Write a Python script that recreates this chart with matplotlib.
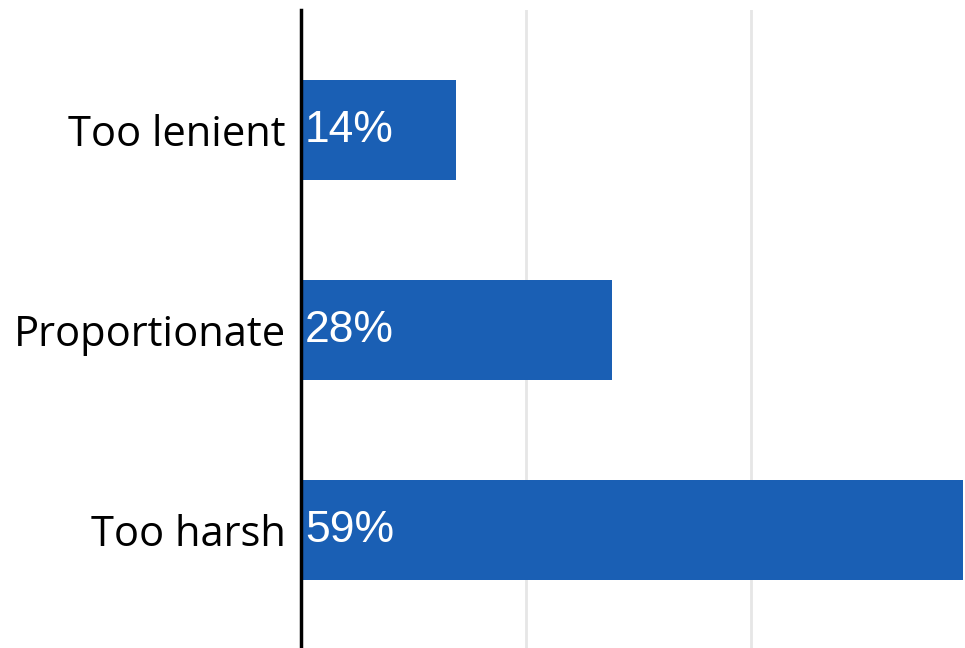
import matplotlib
matplotlib.use('Agg')
from matplotlib import pyplot as plt

categories = ['Too lenient', 'Proportionate', 'Too harsh']
values = [13.8, 27.6, 58.8]
labels = ['14%', '28%', '59%']

W, H, DPI = 965, 648, 100
fig = plt.figure(figsize=(W / DPI, H / DPI), dpi=DPI)
ax = fig.add_axes([301 / W, 0, 663.75 / W, 638 / H])

ypos = list(range(len(categories)))
ax.barh(ypos, values, height=0.5, color='#1a5fb4', zorder=2)
ax.set_xlim(0, 59)
ax.set_ylim(2.59, -0.6)

ax.set_xticks([20, 40])
ax.xaxis.grid(True, color='#e6e6e6', linewidth=2)
ax.set_axisbelow(True)
ax.tick_params(axis='x', length=0, labelbottom=False)

ax.set_yticks(ypos)
ax.set_yticklabels(categories, fontsize=30, family=['Open Sans', 'DejaVu Sans'])
ax.tick_params(axis='y', length=0, pad=11)

for s in ['top', 'right', 'bottom']:
    ax.spines[s].set_visible(False)
ax.spines['left'].set_linewidth(2.5)
ax.spines['left'].set_color('black')

for y, v, t in zip(ypos, values, labels):
    ax.annotate(t, xy=(0, y), xytext=(4, 0), textcoords='offset pixels',
                ha='left', va='center', color='white', fontsize=32,
                family='Liberation Sans', zorder=3)

fig.savefig('out.png', dpi=DPI)
